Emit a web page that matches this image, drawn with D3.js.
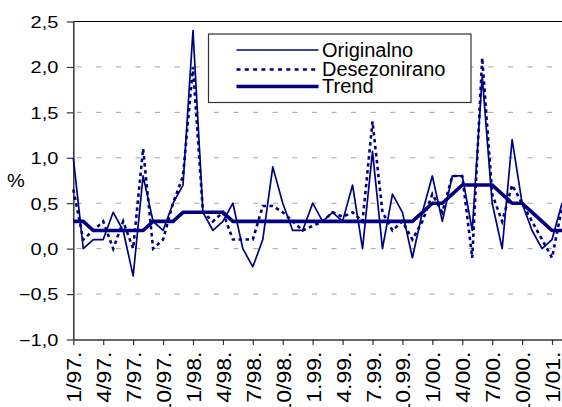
<!DOCTYPE html>
<html>
<head>
<meta charset="utf-8">
<script src="https://cdn.jsdelivr.net/npm/d3@7"></script>
<style>
html,body{margin:0;padding:0;background:#fff;overflow:hidden;}
svg{display:block;}
text{font-family:"Liberation Sans",Arial,sans-serif;fill:#000;}
</style>
</head>
<body>
<svg id="chart" width="562" height="407"></svg>
<script>
// ---- data ----
const categories = [
 "1/97","2/97","3/97","4/97","5/97","6/97","7/97","8/97","9/97","10/97","11/97","12/97",
 "1/98","2/98","3/98","4/98","5/98","6/98","7/98","8/98","9/98","10/98","11/98","12/98",
 "1/99","2/99","3/99","4/99","5/99","6/99","7/99","8/99","9/99","10/99","11/99","12/99",
 "1/00","2/00","3/00","4/00","5/00","6/00","7/00","8/00","9/00","10/00","11/00","12/00",
 "1/01","2/01"];
const originalno = [1.0,0.0,0.1,0.1,0.4,0.2,-0.3,0.8,0.3,0.2,
  0.5,0.7,2.4,0.4,0.2,0.3,0.5,0.0,-0.2,0.1,
  0.9,0.5,0.2,0.2,0.5,0.3,0.4,0.3,0.7,0.0,
  1.07,0.0,0.6,0.4,-0.1,0.4,0.8,0.3,0.8,0.8,
  0.2,1.9,0.5,0.0,1.2,0.5,0.2,0.0,0.1,0.5];
const desezonirano = [0.65,0.1,0.2,0.3,0.0,0.3,0.0,1.1,0.0,0.1,
  0.5,0.8,2.0,0.4,0.3,0.4,0.1,0.1,0.1,0.47,
  0.47,0.4,0.3,0.2,0.25,0.3,0.4,0.35,0.4,0.3,
  1.4,0.4,0.2,0.3,0.1,0.3,0.6,0.4,0.8,0.8,
  -0.1,2.1,0.6,0.3,0.7,0.5,0.3,0.1,-0.1,0.45];
const trend = [0.3,0.3,0.2,0.2,0.2,0.2,0.2,0.2,0.3,0.3,
  0.3,0.4,0.4,0.4,0.4,0.4,0.3,0.3,0.3,0.3,
  0.3,0.3,0.3,0.3,0.3,0.3,0.3,0.3,0.3,0.3,
  0.3,0.3,0.3,0.3,0.3,0.4,0.5,0.5,0.6,0.7,
  0.7,0.7,0.7,0.6,0.5,0.5,0.4,0.3,0.2,0.2];
const tickCategories = ["1/97","4/97","7/97","10/97","1/98","4/98","7/98","10/98",
  "1/99","4/99","7/99","10/99","1/00","4/00","7/00","10/00","1/01"];
const tickLabels = ["1/97.","4/97.","7/97.","10/97.","1/98.","4/98.","7/98.","10/98.",
  "1.99.","4.99.","7.99.","10.99.","1/00.","4/00.","7/00.","10/00.","1/01."];
const yTicks = [-1.0,-0.5,0.0,0.5,1.0,1.5,2.0,2.5];
const seriesNames = ["Originalno","Desezonirano","Trend"];

// ---- layout ----
const svg = d3.select("#chart");
const L = 73.3, R = 562, T = 21.5, B = 339.5;
const x = d3.scalePoint().domain(categories).range([L, R]);
const y = d3.scaleLinear().domain([-1, 2.5]).range([B, T]);
const navy = "#000080";
const fmt = v => d3.format(".1f")(v).replace(".", ",");

// gridlines
svg.append("g").selectAll("line").data(yTicks.filter(v => v > -1 && v < 2.5)).join("line")
  .attr("x1", L + 3.4).attr("x2", R).attr("y1", d => y(d)).attr("y2", d => y(d))
  .attr("stroke", "#a0a0a0").attr("stroke-width", 1).attr("stroke-dasharray", "5,14.6");
// top line at 2.5
svg.append("line").attr("x1", L).attr("x2", R).attr("y1", y(2.5)).attr("y2", y(2.5))
  .attr("stroke", "#000").attr("stroke-width", 1.2);

// y axis
const yAxis = d3.axisLeft(y).tickValues(yTicks).tickSize(6.5).tickSizeOuter(0).tickFormat(fmt);
const gy = svg.append("g").attr("transform", `translate(${L},0)`).call(yAxis);
gy.select(".domain").attr("stroke", "#333").attr("stroke-width", 1.5);
gy.selectAll(".tick line").attr("stroke", "#333").attr("stroke-width", 1.2);
gy.selectAll(".tick text").remove();
gy.selectAll(".tick").append("text")
  .attr("transform", "translate(-15,0) scale(1,0.82)")
  .attr("text-anchor", "end").attr("dy", "0.36em")
  .style("font-size", "20px").text(d => fmt(d));

// x axis
const xAxis = d3.axisBottom(x).tickValues(tickCategories).tickSize(5.5).tickSizeOuter(0).tickFormat("");
const gx = svg.append("g").attr("transform", `translate(0,${B})`).call(xAxis);
gx.select(".domain").attr("stroke", "#333").attr("stroke-width", 1.5);
gx.selectAll(".tick line").attr("stroke", "#333").attr("stroke-width", 1.2);
gx.selectAll(".tick").append("text")
  .attr("transform", "translate(0,12) rotate(-90) scale(1.1,1)")
  .attr("text-anchor", "end").attr("dy", "0.36em")
  .style("font-size", "21px")
  .text((d, i) => tickLabels[i]);

// axis title
svg.append("text").attr("transform", "translate(7,187) scale(1,0.88)")
  .style("font-size", "20px").text("%");

// lines
const clip = svg.append("clipPath").attr("id", "clip").append("rect")
  .attr("x", L - 2).attr("y", 0).attr("width", R - L + 2).attr("height", 407);
const line = d3.line().x((d, i) => x(categories[i])).y(d => y(d));
const plot = svg.append("g").attr("clip-path", "url(#clip)");
plot.append("path").datum(originalno).attr("d", line)
  .attr("fill", "none").attr("stroke", navy).attr("stroke-width", 1.7).attr("stroke-linejoin", "round");
plot.append("path").datum(desezonirano).attr("d", line)
  .attr("fill", "none").attr("stroke", navy).attr("stroke-width", 2.6).attr("stroke-dasharray", "3.5,3.5");
plot.append("path").datum(trend).attr("d", line)
  .attr("fill", "none").attr("stroke", navy).attr("stroke-width", 3.6).attr("stroke-linejoin", "round");

// legend
const lg = svg.append("g");
lg.append("rect").attr("x", 208.5).attr("y", 34).attr("width", 262.5).attr("height", 68.5)
  .attr("fill", "#fff").attr("stroke", "#333").attr("stroke-width", 1.2);
const legY = [50, 69.5, 86.5];
const legStyle = [{w:1.7, dash:null},{w:2.6, dash:"4,4.3"},{w:3.6, dash:null}];
seriesNames.forEach((name, i) => {
  const ln = lg.append("line").attr("x1", 236.5).attr("x2", 318.5)
    .attr("y1", legY[i]).attr("y2", legY[i])
    .attr("stroke", navy).attr("stroke-width", legStyle[i].w);
  if (legStyle[i].dash) ln.attr("stroke-dasharray", legStyle[i].dash);
  lg.append("text").attr("x", 322).attr("y", legY[i] + 6.5)
    .style("font-size", "20px").text(name);
});
</script>
</body>
</html>
